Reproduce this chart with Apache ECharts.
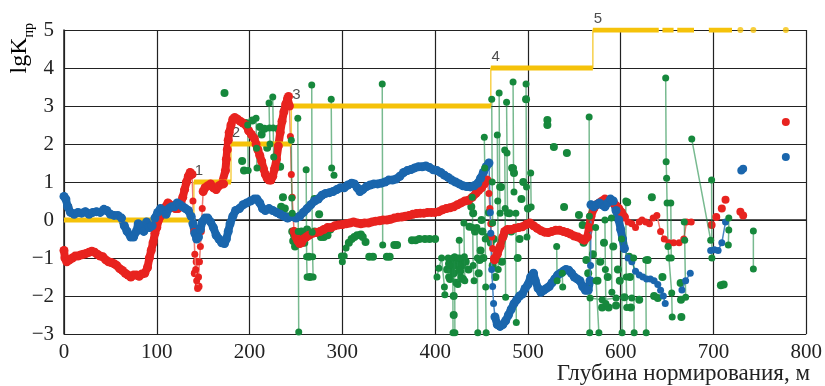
<!DOCTYPE html>
<html>
<head>
<meta charset="utf-8">
<script src="https://cdn.jsdelivr.net/npm/echarts@6/dist/echarts.min.js"></script>
<style>
  html, body { margin: 0; padding: 0; background: #fff; }
  #main { width: 825px; height: 386px; }
</style>
</head>
<body>
<div id="main"></div>
<script>
// lgK_пр по глубине нормирования
const xName = 'Глубина нормирования, м'
const levelNames = ['0', '1', '2', '3', '4', '5']
const levelFrom = [0, 140, 180, 245, 460, 570]
const levelTo = [140, 180, 245, 460, 570, 641]
const levelValue = [0, 1, 2, 3, 4, 5]
// куски уровня 5 правее основного отрезка
const level5From = [645, 661, 695]
const level5To = [657, 679, 720]
const level5Dots = [729, 743, 778]

// синяя кривая
const blueBand1 = [[0,0.62],[2,0.55],[4,0.35],[7,0.2],[11,0.15],[15,0.2],[19,0.18],[23,0.22],[27,0.15],[31,0.2],[35,0.22],[39,0.2],[43,0.28],[46,0.25],[50,0.15],[54,0.12],[58,0.12],[62,0.05],[65,-0.15],[68,-0.3],[72,-0.45],[75,-0.45],[78,-0.3],[80,-0.1],[83,-0.15],[86,-0.3],[89,-0.05],[92,-0.2],[95,-0.15],[98,0.05],[101,0.2],[104,0.3],[107,0.25],[110,0.15],[113,0.3],[116,0.35],[119,0.35],[122,0.45],[125,0.4],[128,0.35],[131,0.3],[134,0.25],[137,0.1],[139,-0.1],[141,-0.35],[143,-0.5],[145,-0.45],[147,-0.25],[149,-0.05],[152,0.05],[155,0.05],[158,-0.05],[161,-0.2],[164,-0.4],[167,-0.5],[170,-0.6],[173,-0.62],[175,-0.5],[177,-0.3],[179,-0.1],[182,0.1],[185,0.25],[189,0.3],[193,0.4],[197,0.45],[201,0.5],[205,0.55],[208,0.55],[211,0.45],[214,0.3],[217,0.25],[221,0.3],[225,0.25],[229,0.2],[233,0.15],[237,0.1],[241,0.05],[245,0.1],[250,0.05],[254,0.1],[258,0.2],[262,0.3],[266,0.4],[270,0.5],[274,0.55],[278,0.65],[282,0.7],[286,0.72],[290,0.75],[294,0.8],[298,0.85],[302,0.85],[306,0.92],[310,0.97],[313,0.95],[316,0.85],[319,0.75],[322,0.8],[326,0.88],[330,0.92],[334,0.95],[338,0.95],[342,0.97],[346,1.0],[350,1.05],[354,1.05],[358,1.08],[362,1.15],[366,1.25],[370,1.3],[374,1.33],[378,1.37],[382,1.4],[386,1.4],[390,1.42],[394,1.38],[398,1.32],[402,1.3],[406,1.25],[410,1.18],[414,1.12],[418,1.05],[422,1.0],[426,0.95],[430,0.9],[434,0.88],[438,0.87],[442,0.9],[446,0.97],[449,1.1],[452,1.25],[455,1.4],[458,1.5]]
const blueBand2 = [[464.5,-2.55],[467,-2.75],[470,-2.8],[473,-2.75],[476,-2.65],[479,-2.5],[482,-2.35],[485,-2.2],[488,-2.1],[491,-2.0],[494,-1.95],[497,-1.8],[500,-1.7],[503,-1.5],[506,-1.4],[508,-1.6],[511,-1.8],[514,-1.9],[517,-1.85],[520,-1.8],[523,-1.75],[526,-1.65],[529,-1.55],[532,-1.45],[535,-1.4],[538,-1.35],[541,-1.3],[544,-1.32],[547,-1.4],[550,-1.5],[553,-1.55],[556,-1.6],[559,-1.75],[562,-1.85],[565,-1.85],[567,-1.6]]
const blueBand3 = [[568,0.4],[571,0.35],[574,0.4],[577,0.45],[580,0.4],[583,0.35],[586,0.45],[589,0.55],[592,0.5],[595,0.25],[598,0.0],[600,-0.25],[602,-0.5],[604,-0.75]]
const blueLinks = [
  [[458,1.5],[459.5,0.2],[460,-0.35],[461,-1.3],[462,-1.75],[463,-2.2],[464.5,-2.55]],
  [[567,-1.6],[567.5,-1.2],[568,0.4]],
  [[604,-0.75],[608,-1.0],[612,-1.1],[616,-1.35],[620,-1.45],[624,-1.5],[628,-1.55],[632,-1.55],[636,-1.6],[640,-1.7],[643,-1.85],[646,-2.0],[648,-2.2]],
  [[666,-1.84],[670,-1.6],[675,-1.4]],
  [[697,-0.8],[701,-0.78],[705,-0.8],[709,-0.6],[713,-0.05]]
]
const blueLoose = [[730,1.3],[732,1.35],[778,1.66]]

// красная кривая
const redBand1 = [[0,-0.8],[1,-1.0],[3,-1.1],[6,-1.05],[9,-1.0],[12,-0.95],[15,-0.95],[18,-0.92],[21,-0.9],[24,-0.88],[27,-0.85],[30,-0.82],[33,-0.85],[36,-0.9],[39,-0.95],[42,-0.97],[45,-1.05],[48,-1.1],[51,-1.12],[54,-1.15],[57,-1.2],[60,-1.28],[63,-1.33],[66,-1.4],[69,-1.45],[72,-1.5],[75,-1.45],[78,-1.45],[81,-1.48],[84,-1.42],[87,-1.4],[90,-1.25],[92,-1.0],[94,-0.8],[96,-0.6],[98,-0.35],[100,-0.2],[102,0.0],[104,0.1],[106,0.2],[108,0.3],[110,0.35],[112,0.45],[114,0.4],[117,0.35],[120,0.3],[123,0.3],[126,0.45],[128,0.6],[130,0.8],[132,1.0],[134,1.15],[136,1.25],[138,1.2]]
const redBand2 = [[150,0.75],[152,0.85],[155,0.9],[158,0.95],[161,0.85],[164,0.8],[167,0.9],[170,0.95],[172,0.95],[174,1.3],[175,1.6],[176,1.85],[177,2.1],[178,2.3],[180,2.5],[182,2.65],[184,2.7],[187,2.65],[190,2.6],[193,2.55],[196,2.5],[199,2.35],[202,2.25],[205,2.15],[207,2.0],[209,1.85],[211,1.7],[213,1.55],[215,1.35],[217,1.2],[219,1.1],[221,1.05],[223,1.05],[225,1.15],[227,1.35],[229,1.6],[231,1.95],[233,2.3],[235,2.6],[237,2.85],[239,3.05],[241,3.2],[242,3.25],[243,3.0]]
const redBand3 = [[248,-0.3],[250,-0.45],[252,-0.55],[254,-0.62],[256,-0.6],[258,-0.5],[261,-0.45],[264,-0.4],[268,-0.35],[272,-0.33],[276,-0.3],[280,-0.25],[284,-0.2],[288,-0.2],[292,-0.15],[296,-0.13],[300,-0.12],[304,-0.1],[308,-0.08],[312,-0.05],[316,-0.08],[320,-0.1],[324,-0.08],[328,-0.08],[332,-0.05],[336,-0.03],[340,-0.02],[344,0.0],[348,0.0],[352,0.02],[356,0.05],[360,0.07],[364,0.08],[368,0.1],[372,0.12],[376,0.15],[380,0.17],[384,0.18],[388,0.18],[392,0.2],[396,0.2],[400,0.2],[404,0.22],[408,0.27],[412,0.3],[416,0.32],[420,0.35],[424,0.4],[428,0.45],[432,0.5],[436,0.52],[440,0.6],[444,0.7],[447,0.78],[450,0.85],[453,0.95],[456,1.05]]
const redBand4 = [[464,-1.05],[467,-0.9],[470,-0.7],[473,-0.45],[475,-0.3],[478,-0.25],[482,-0.25],[486,-0.22],[490,-0.2],[494,-0.18],[498,-0.12],[502,-0.08],[506,-0.15],[510,-0.22],[514,-0.28],[518,-0.32],[522,-0.33],[526,-0.3],[530,-0.27],[534,-0.27],[538,-0.3],[542,-0.33],[546,-0.37],[550,-0.42],[554,-0.45],[558,-0.5],[561,-0.53],[564,-0.45],[566,-0.2],[568,0.1],[571,0.3],[574,0.4],[577,0.45],[580,0.5],[583,0.55],[586,0.52],[589,0.48],[592,0.45],[595,0.38],[598,0.3],[601,0.2],[604,0.08]]
const redLinks = [
  [[138,1.2],[139,0.5],[140,-0.3],[141,-0.9],[142,-1.3],[143,-1.6],[144,-1.8],[145,-1.5],[146,-1.1],[147,-0.7],[148,-0.3],[149,0.3],[150,0.75]],
  [[243,3.0],[244,2.2],[245,1.2],[246,0.6],[247,0.1],[248,-0.3]],
  [[456,1.05],[458,0.7],[459,0.3],[460,-0.1],[461,-0.45],[462,-0.75],[463,-1.0],[464,-1.05]],
  [[604,0.08],[608,-0.05],[612,-0.1],[616,-0.2],[620,-0.05],[623,0.0],[627,-0.05],[631,-0.1],[635,0.05],[639,0.12],[643,-0.3],[647,-0.5],[652,-0.6],[657,-0.6],[663,-0.6],[668,-0.5],[671,-0.05],[676,-0.05]]
]
const redLoose = [[141,-1.4],[143,-1.1],[145,-1.75],[698,-0.13],[703,0.08],[709,0.3],[713,0.53],[729,0.22],[732,0.12],[778,2.58]]

// зелёные точки с отрезками
const greenStrokes = [
  [[198,2.5],[198.5,1.3]],
  [[207,2.68],[207.5,1.89],[208,1.37]],
  [[221,3.08],[221.5,2.42],[222,2.0]],
  [[225,3.24],[225.5,2.42],[226,1.66]],
  [[245,2.1],[245.5,0.58],[246,0.18]],
  [[252,2.68],[252.5,-0.3],[253,-2.95]],
  [[261,1.32],[261.5,-0.97],[262,-1.5]],
  [[267,3.55],[267.5,-0.32],[268,-0.97],[268.5,-1.5]],
  [[288,3.18],[288.5,1.37],[291,1.18]],
  [[299,-0.95],[300,-1.1],[302,-0.95],[304,-0.74]],
  [[343,3.58],[343.5,-0.66]],
  [[402,-1.5],[404,-1.27],[407,-1.0],[410,-1.76],[410.5,-1.97]],
  [[414,-1.0],[414.5,-1.5],[416,-1.2]],
  [[419,-1.0],[419.3,-2.97]],
  [[421,-0.97],[421.3,-2.97]],
  [[424,-1.0],[424.5,-1.7],[426,-1.3],[428,-1.5]],
  [[426,-0.53],[426.5,-1.0]],
  [[431,-0.08],[431.5,-0.97],[432,-1.6]],
  [[440,0.6],[440.5,-0.2],[441,-1.2],[442,-1.6]],
  [[445,-0.2],[445.5,-1.0],[446,-2.97]],
  [[453,2.18],[453.5,1.37],[454,-0.5],[454.5,-1.76],[455,-2.97]],
  [[461,3.18],[461.5,1.0],[462,-0.08]],
  [[467,2.24],[467.5,0.5],[468,-1.3]],
  [[469,3.34],[469.5,0.87],[470,0.18]],
  [[475,1.84],[475.5,0.3],[476,-2.03]],
  [[477,3.1],[477.5,1.76],[478,0.18]],
  [[484,3.63],[484.5,1.37],[485,0.74]],
  [[487,0.18],[487.5,-2.7]],
  [[498,3.58],[498.5,0.87],[499,-0.45]],
  [[503,1.24],[503.5,0.34]],
  [[531,-0.7],[531.5,-1.6]],
  [[537,-1.4],[537.5,-1.76]],
  [[566,2.71],[566.3,0.1],[566.6,-2.97]],
  [[567,-2.05],[580,-2.1],[595,-2.05],[612,-2.05]],
  [[573,-0.2],[573.5,-1.6],[576.5,-2.97]],
  [[583,0.0],[583.5,-1.3],[584,-2.2]],
  [[590,0.05],[590.5,-1.9]],
  [[601,-0.5],[601.5,-2.97]],
  [[605.5,0.5],[606,-1.5],[606.5,-2.3]],
  [[614,-1.0],[614.5,-2.97]],
  [[627,-1.05],[627.5,-2.97]],
  [[648.5,3.74],[649,1.53],[649.5,1.1],[650,0.45],[651,-0.7],[652,-1.0],[655,-1.92],[655.5,-2.55]],
  [[654,0.45],[654.5,-1.0]],
  [[668.5,-0.05],[669,-0.53],[670,-2.03]],
  [[676.6,2.13],[697,-0.53]],
  [[698,1.05],[698.3,-1.0]],
  [[716.5,0.05],[716.5,-0.26],[716,-0.66]],
  [[743,-0.29],[743,-1.29]]
]
const greenDots = [
  [173,3.34],[192,1.55],[194,1.3],[196,2.55],[203,2.62],[211,2.45],[213,2.25],[216,2.4],[219,1.9],[229,1.5],[231,2.4],[233,1.4],[234,0.35],[236,0.6],[238,0.3],[240,0.1],
  [246,-0.3],[247,-0.55],[248,-0.4],[249,-0.7],[250,-0.45],[251,-0.6],[253,-0.35],[255,-0.55],[256,-0.3],[257,-0.45],[259,-0.6],[260,-0.4],[262,-0.25],[264,-0.4],[264,-0.97],[265,-1.5],
  [270,0.55],[272,0.53],[275,0.15],[270,-0.3],[277,-0.45],[280,-0.45],[283,-0.35],[284,-0.4],[287,-0.25],
  [307,-0.6],[310,-0.5],[313,-0.45],[316,-0.4],[320,-0.38],[322,-0.45],[325,-0.58],[329,-0.97],[333,-0.97],[348,-0.97],[351,-0.97],[356,-0.66],[359,-0.66],
  [375,-0.53],[379,-0.53],[383,-0.5],[389,-0.5],[394,-0.5],[400,-0.5],
  [413,-1.3],[415,-1.15],[416,-1.55],[417,-1.3],[418,-1.1],[420,-1.4],[420,-2.0],[420,-2.5],[422,-1.2],[423,-1.65],[425,-1.05],[427,-1.35],[429,-1.2],[430,-1.55],[433,-1.1],[436,-1.3],
  [437,-0.18],[439,0.35],[441,0.18],[443,-0.3],[447,-1.4],[448,-1.05],[449,-0.8],[450,0.0],[451,-0.3],[452,-1.0],[457,-0.45],[458,0.2],[460,-0.6],[462,-1.2],[463,-0.5],[465,-1.5],[466,-0.9],[471,0.87],[472,-1.1],[474,-0.4],[480,0.18],[482,-0.3],[483,1.37],[485,1.24],[489,-1.0],[491,-0.5],[493,0.55],[495,1.0],[498,3.18],[500,0.3],
  [521,2.63],[521,2.5],[528,1.92],[539,0.34],[542,1.76],[555,0.13],[559,-0.13],[560,-0.6],[563,-1.05],[565,-1.4],[570,-0.9],[575,-1.6],[578,-1.1],[580,-2.3],[582,-0.6],[586,-1.5],[587,-2.3],[592,-0.7],[595,-2.25],[597,-1.3],[599,-1.6],[604,-2.03],[607,0.47],[609,-0.97],[610,-1.5],[611,-2.3],[620,-2.1],[629,-1.05],[633.6,0.6],[636,-2.0],[640,-2.05],[645,-1.5],
  [664.6,-1.66],[665,-2.1],[665.4,-2.55],[708,-1.72],[711,-1.7]
]

const BLUE = '#1a66ad'
const RED = '#e8231f'
const GREEN = '#16883c'
const YELLOW = '#f5c20a'
const SERIF = 'Liberation Serif'

// склеиваем отрезки в одну линию с разрывами
function joinStrokes (strokes) {
  const out = []
  strokes.forEach((s, i) => {
    if (i) out.push([s[0][0], null])
    s.forEach(p => out.push(p))
  })
  return out
}

function band (data, color) {
  return {
    type: 'line', data, symbol: 'circle', symbolSize: 9, showAllSymbol: true,
    itemStyle: { color }, lineStyle: { color, width: 8, cap: 'round', join: 'round' }
  }
}
function links (strokes, color, lineColor) {
  return {
    type: 'line', data: joinStrokes(strokes), symbol: 'circle', symbolSize: 7, showAllSymbol: true,
    connectNulls: false, itemStyle: { color }, lineStyle: { color: lineColor, width: 1.5 }
  }
}
function loose (data, color) {
  return { type: 'scatter', data, symbolSize: 8, itemStyle: { color, opacity: 1 } }
}

// ступеньки уровней
const stepPath = []
const levelSegs = []
const levelStarts = []
levelFrom.forEach((f, i) => {
  stepPath.push([f, levelValue[i]], [levelTo[i], levelValue[i]])
  levelSegs.push([[f, levelValue[i]], [levelTo[i], levelValue[i]]])
  levelStarts.push([f, levelValue[i]])
})
level5From.forEach((f, i) => levelSegs.push([[f, 5], [level5To[i], 5]]))

const chart = echarts.init(document.getElementById('main'))
chart.setOption({
  animation: false,
  grid: { left: 64, right: 18, top: 30, bottom: 52 },
  xAxis: {
    type: 'value', min: 0, max: 800, interval: 100,
    axisLine: { lineStyle: { color: '#222', width: 1.5 } },
    axisTick: { show: false },
    splitLine: { lineStyle: { color: '#222', width: 1.2 } },
    axisLabel: { fontFamily: SERIF, fontSize: 21, color: '#222', margin: 8 }
  },
  yAxis: {
    type: 'value', min: -3, max: 5, interval: 1,
    axisLine: { show: true, lineStyle: { color: '#222', width: 1.5 } },
    axisTick: { show: false },
    splitLine: { lineStyle: { color: '#222', width: 1.2 } },
    axisLabel: {
      fontFamily: SERIF, fontSize: 21, color: '#222', margin: 10,
      formatter: v => String(v).replace('-', '\u2212')
    }
  },
  graphic: [{
    type: 'text', x: 22, y: 23, rotation: Math.PI / 2,
    style: {
      text: '{a|lgK}{b|пр}', textAlign: 'right', textVerticalAlign: 'middle',
      rich: {
        a: { fontFamily: SERIF, fontSize: 24, color: '#222', verticalAlign: 'bottom', padding: [0, 0, 5, 0] },
        b: { fontFamily: SERIF, fontSize: 14, color: '#222', verticalAlign: 'bottom' }
      }
    }
  }, {
    type: 'text', x: 810, y: 374,
    style: {
      text: xName, fontFamily: SERIF, fontSize: 23, fill: '#222',
      textAlign: 'right', textVerticalAlign: 'middle'
    }
  }],
  series: [
    loose(redLoose, RED),
    links(redLinks, RED, '#f07a70'),
    band(redBand1, RED), band(redBand2, RED), band(redBand3, RED), band(redBand4, RED),
    links(blueLinks, BLUE, '#4a86c4'),
    band(blueBand1, BLUE), band(blueBand2, BLUE), band(blueBand3, BLUE),
    loose(blueLoose, BLUE),
    links(greenStrokes, GREEN, 'rgba(30,140,70,0.6)'),
    loose(greenDots, GREEN),
    {
      type: 'line', data: stepPath, showSymbol: false,
      lineStyle: { color: '#f7d04a', width: 1.5 }
    },
    {
      type: 'line', data: joinStrokes(levelSegs), showSymbol: false, connectNulls: false,
      lineStyle: { color: YELLOW, width: 5 }
    },
    {
      type: 'scatter', data: level5Dots.map(x => [x, 5]), symbolSize: 6,
      itemStyle: { color: YELLOW }
    },
    {
      type: 'scatter', data: levelStarts, symbolSize: 0,
      label: {
        show: true, position: 'top', distance: 4, offset: [5, 0],
        fontFamily: 'Liberation Sans', fontSize: 15, color: '#222',
        formatter: p => levelNames[p.dataIndex]
      }
    }
  ]
})
</script>
</body>
</html>
